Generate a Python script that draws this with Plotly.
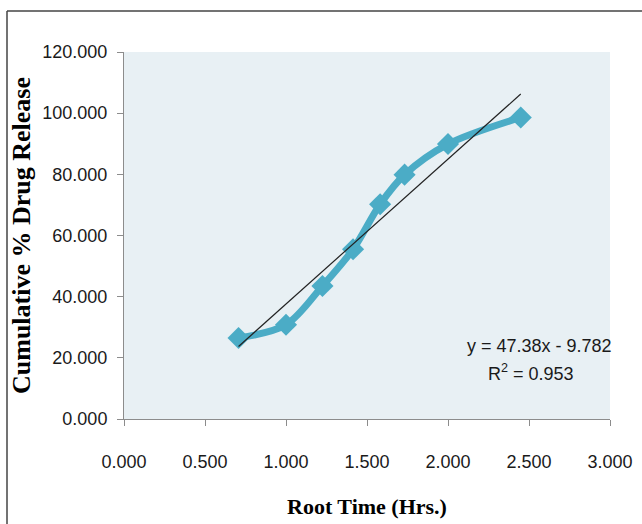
import plotly.graph_objects as go

# Data
root_time = [0.707, 1.000, 1.225, 1.414, 1.581, 1.732, 2.000, 2.449]
cum_release = [26.5, 30.8, 43.5, 55.5, 70.2, 79.9, 89.9, 98.6]
trend_slope = 47.38
trend_intercept = -9.782
trend_r2 = 0.953
x_ticks = [0, 0.5, 1.0, 1.5, 2.0, 2.5, 3.0]
y_ticks = [0, 20, 40, 60, 80, 100, 120]

W, H = 642, 524
L, R, T, B = 124, 32, 52, 105
pw, ph = W - L - R, H - T - B

tick_font = dict(family="Liberation Sans Narrow, Liberation Sans, Arial, sans-serif",
                 size=18, color="#1a1a1a")
title_font = dict(family="Liberation Serif, Times New Roman, serif", size=26, color="#000000")

fig = go.Figure()
fig.add_trace(go.Scatter(
    x=root_time, y=cum_release, mode="lines+markers",
    line=dict(color="#4BACC6", width=7, shape="spline", smoothing=0.9),
    marker=dict(symbol="diamond", size=17, color="#4BACC6"),
    showlegend=False, hoverinfo="x+y"))

tx = [min(root_time), max(root_time)]
ty = [trend_slope * v + trend_intercept for v in tx]
fig.add_trace(go.Scatter(x=tx, y=ty, mode="lines",
                         line=dict(color="#222222", width=1.2),
                         showlegend=False, hoverinfo="skip"))

fig.add_annotation(x=2.565, y=24.0, xref="x", yref="y",
                   text=f"y = {trend_slope}x - {abs(trend_intercept)}",
                   showarrow=False, font=dict(tick_font, size=18), xanchor="center")
fig.add_annotation(x=2.51, y=15.3, xref="x", yref="y",
                   text=f"R<sup>2</sup> = {trend_r2}",
                   showarrow=False, font=dict(tick_font, size=18), xanchor="center")

# outer chart border (left and top)
bx = (7 - L) / pw
by = (H - B - 11) / ph
fig.add_shape(type="line", xref="paper", yref="paper", x0=bx, x1=bx, y0=by, y1=-0.5,
              line=dict(color="#444444", width=1.5))
fig.add_shape(type="line", xref="paper", yref="paper", x0=bx, x1=1.2, y0=by, y1=by,
              line=dict(color="#444444", width=1.5))

fig.update_layout(
    width=W, height=H,
    margin=dict(l=L, r=R, t=T, b=B),
    paper_bgcolor="white", plot_bgcolor="#E8F0F4",
    xaxis=dict(range=[0, 3], tickvals=x_ticks, ticktext=[f"{v:.3f}" for v in x_ticks],
               showgrid=False, zeroline=False, showline=True, linecolor="#8c8c8c",
               ticks="outside", ticklen=6, tickcolor="#8c8c8c", tickfont=tick_font,
               ticklabelstandoff=20, automargin=False,
               title=dict(text="<b>Root Time (Hrs.)</b>", font=dict(title_font, size=22), standoff=28)),
    yaxis=dict(range=[0, 120], tickvals=y_ticks, ticktext=[f"{v:.3f}" for v in y_ticks],
               showgrid=False, zeroline=False, showline=True, linecolor="#8c8c8c",
               ticks="outside", ticklen=6, tickcolor="#8c8c8c", tickfont=tick_font,
               ticklabelstandoff=6, automargin=False,
               title=dict(text="<b>Cumulative % Drug Release</b>", font=title_font, standoff=4)),
)

fig.write_html("out.html")
